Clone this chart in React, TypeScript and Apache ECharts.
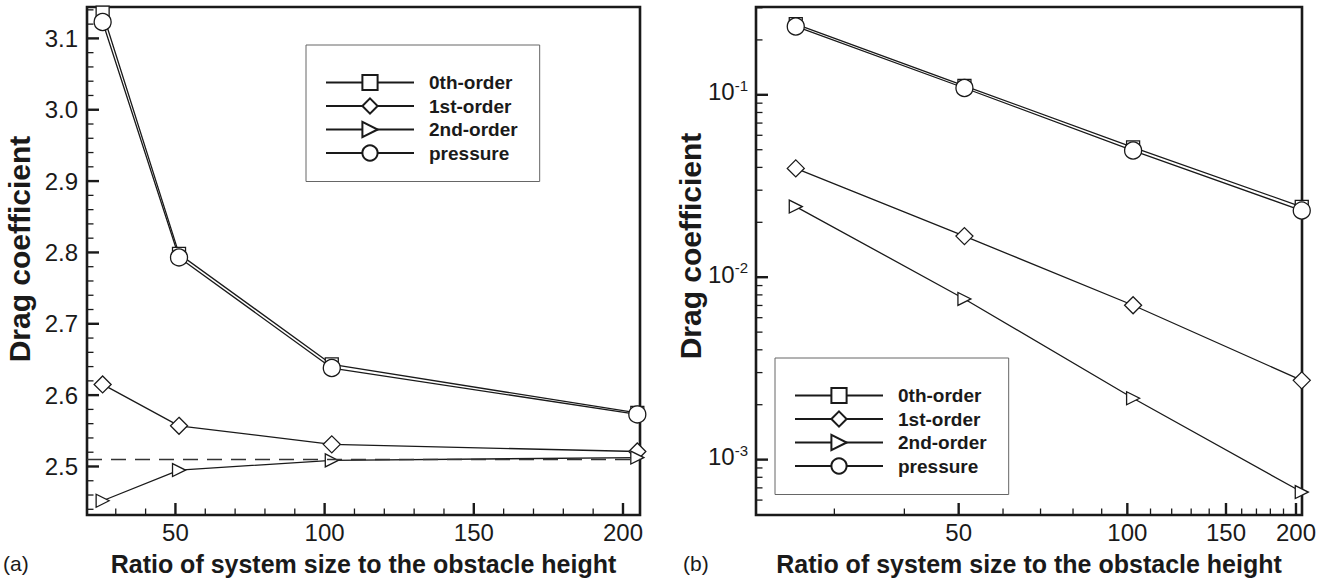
import React, { useEffect, useRef } from 'react';
import * as echarts from 'echarts';

// ---------- data ----------
const sizeRatio = [25.6, 51.2, 102.4, 204.8];
const seriesNames = ['0th-order', '1st-order', '2nd-order', 'pressure'];

// panel (a): drag coefficient, linear axes
const cdZeroA = [3.136, 2.798, 2.643, 2.575];
const cdFirstA = [2.615, 2.557, 2.531, 2.521];
const cdSecondA = [2.452, 2.495, 2.5085, 2.5125];
const cdPressureA = [3.123, 2.793, 2.638, 2.573];
const referenceCd = 2.514;

// panel (b): drag coefficient, log-log axes
const cdZeroB = [0.244, 0.112, 0.0515, 0.0243];
const cdFirstB = [0.0395, 0.0168, 0.00702, 0.00272];
const cdSecondB = [0.0244, 0.0076, 0.00217, 0.000664];
const cdPressureB = [0.237, 0.109, 0.0495, 0.0232];

// axis ranges
const xRangeA = [20.36, 205.7];
const yRangeA = [2.432, 3.144];
const xRangeB = [21.74, 205];
const yRangeB = [4.97e-4, 0.303];

// ticks
const xMajorA = [50, 100, 150, 200];
const xMajorLabelsA = ['50', '100', '150', '200'];
const xMinorA = [30, 40, 60, 70, 80, 90, 110, 120, 130, 140, 160, 170, 180, 190];
const yMajorA = [2.5, 2.6, 2.7, 2.8, 2.9, 3.0, 3.1];
const yMajorLabelsA = ['2.5', '2.6', '2.7', '2.8', '2.9', '3.0', '3.1'];
const yMinorA = [2.44, 2.46, 2.48, 2.52, 2.54, 2.56, 2.58, 2.62, 2.64, 2.66, 2.68, 2.72, 2.74, 2.76, 2.78,
  2.82, 2.84, 2.86, 2.88, 2.92, 2.94, 2.96, 2.98, 3.02, 3.04, 3.06, 3.08, 3.12, 3.14];

const xMajorB = [50, 100, 150, 200];
const xMajorLabelsB = ['50', '100', '150', '200'];
const xMinorB = [30, 40, 60, 70, 80, 90, 110, 120, 130, 140, 160, 170, 180, 190];
const yMajorB = [0.001, 0.01, 0.1];
const yMajorExpB = ['-3', '-2', '-1'];
const yMinorB = [6e-4, 7e-4, 8e-4, 9e-4, 0.002, 0.003, 0.004, 0.005, 0.006, 0.007, 0.008, 0.009,
  0.02, 0.03, 0.04, 0.05, 0.06, 0.07, 0.08, 0.09, 0.2, 0.3];

const FONT = '"Liberation Sans", Arial, Helvetica, sans-serif';
const INK = '#1a1a1a';
const TICK_FONT = 24;

const symbolSpecs = [
  { symbol: 'rect', size: 13, rotate: 0 },
  { symbol: 'diamond', size: 17, rotate: 0 },
  { symbol: 'triangle', size: 13, rotate: -90 },
  { symbol: 'circle', size: 17, rotate: 0 },
];

type TickMeta = { axis: 'x' | 'y'; major: boolean; label?: string; sup?: string };

function buildTickSeries(
  gridIndex: number,
  xMajor: number[], xLabels: string[], xMinor: number[],
  yMajor: number[], yLabels: string[] | null, yExp: string[] | null, yMinor: number[],
  xMin: number, yMin: number
) {
  const items: number[][] = [];
  const meta: TickMeta[] = [];
  xMajor.forEach((v, i) => { items.push([v, yMin]); meta.push({ axis: 'x', major: true, label: xLabels[i] }); });
  xMinor.forEach((v) => { items.push([v, yMin]); meta.push({ axis: 'x', major: false }); });
  yMajor.forEach((v, i) => {
    items.push([xMin, v]);
    meta.push({ axis: 'y', major: true, label: yLabels ? yLabels[i] : undefined, sup: yExp ? yExp[i] : undefined });
  });
  yMinor.forEach((v) => { items.push([xMin, v]); meta.push({ axis: 'y', major: false }); });

  return {
    type: 'custom',
    xAxisIndex: gridIndex,
    yAxisIndex: gridIndex,
    silent: true,
    clip: false,
    z: 5,
    data: items,
    renderItem: (params: any, api: any) => {
      const m = meta[params.dataIndex];
      const p = api.coord([api.value(0), api.value(1)]);
      const len = m.major ? 12 : 6.5;
      const lw = m.major ? 2.4 : 1.3;
      const children: any[] = [];
      if (m.axis === 'x') {
        children.push({
          type: 'line',
          shape: { x1: p[0], y1: p[1], x2: p[0], y2: p[1] - len },
          style: { stroke: INK, lineWidth: lw },
        });
        if (m.label) {
          children.push({
            type: 'text', x: p[0], y: p[1] + 5,
            style: { text: m.label, font: `${TICK_FONT}px ${FONT}`, fill: INK, align: 'center', verticalAlign: 'top' },
          });
        }
      } else {
        children.push({
          type: 'line',
          shape: { x1: p[0], y1: p[1], x2: p[0] + len, y2: p[1] },
          style: { stroke: INK, lineWidth: lw },
        });
        if (m.label) {
          children.push({
            type: 'text', x: p[0] - 9, y: p[1],
            style: { text: m.label, font: `${TICK_FONT}px ${FONT}`, fill: INK, align: 'right', verticalAlign: 'middle' },
          });
        } else if (m.sup) {
          children.push({
            type: 'text', x: p[0] - 8, y: p[1] - 3,
            style: {
              text: `{b|10}{s|${m.sup}}`,
              align: 'right', verticalAlign: 'middle',
              rich: {
                b: { fontFamily: FONT, fontSize: TICK_FONT, fill: INK, color: INK, lineHeight: 28 },
                s: { fontFamily: FONT, fontSize: 15, fill: INK, color: INK, lineHeight: 15, verticalAlign: 'top' },
              },
            },
          });
        }
      }
      return { type: 'group', children };
    },
  };
}

function lineSeries(name: string, idx: number, gridIndex: number, values: number[], extra?: any) {
  const s = symbolSpecs[idx];
  return {
    type: 'line',
    name,
    xAxisIndex: gridIndex,
    yAxisIndex: gridIndex,
    data: sizeRatio.map((x, i) => [x, values[i]]),
    symbol: s.symbol,
    symbolSize: s.size,
    symbolRotate: s.rotate,
    showAllSymbol: true,
    color: INK,
    lineStyle: { color: INK, width: 1.3 },
    itemStyle: { color: '#fff', borderColor: INK, borderWidth: 1.3 },
    emphasis: { disabled: true },
    silent: true,
    z: 3,
    ...(extra || {}),
  };
}

const legendBase = {
  orient: 'vertical',
  data: seriesNames,
  itemWidth: 88,
  itemHeight: 19,
  itemGap: 4.5,
  selectedMode: false,
  backgroundColor: '#fff',
  borderColor: '#666',
  borderWidth: 1,
  padding: [28, 22, 19, 19],
  textStyle: { fontFamily: FONT, fontSize: 19, lineHeight: 19, fontWeight: 'bold', color: INK, padding: [0, 0, 0, 10] },
};

export default function App() {
  const ref = useRef<HTMLDivElement>(null);

  useEffect(() => {
    document.body.style.margin = '0';
    const chart = echarts.init(ref.current as HTMLDivElement, null, { renderer: 'svg' });

    const axisHidden = {
      axisLine: { show: false },
      axisTick: { show: false },
      axisLabel: { show: false },
      splitLine: { show: false },
      minorTick: { show: false },
    };
    const xNameStyle = { fontFamily: FONT, fontSize: 25, fontWeight: 'bold', color: INK };
    const yNameStyleA = { fontFamily: FONT, fontSize: 30, fontWeight: 'bold', color: INK, padding: [0, 0, 0, 24] };
    const yNameStyleB = { fontFamily: FONT, fontSize: 30, fontWeight: 'bold', color: INK, padding: [0, 0, 0, 30] };

    const option: any = {
      animation: false,
      backgroundColor: '#fff',
      textStyle: { fontFamily: FONT },
      grid: [
        { left: 87, top: 7, width: 553, height: 508, show: true, borderColor: INK, borderWidth: 2.6, backgroundColor: 'transparent' },
        { left: 756, top: 7, width: 546, height: 508, show: true, borderColor: INK, borderWidth: 2.6, backgroundColor: 'transparent' },
      ],
      xAxis: [
        {
          type: 'value', gridIndex: 0, min: xRangeA[0], max: xRangeA[1], ...axisHidden,
          name: 'Ratio of system size to the obstacle height', nameLocation: 'middle', nameGap: 36, nameTextStyle: xNameStyle,
        },
        {
          type: 'log', logBase: 10, gridIndex: 1, min: xRangeB[0], max: xRangeB[1], ...axisHidden,
          name: 'Ratio of system size to the obstacle height', nameLocation: 'middle', nameGap: 36, nameTextStyle: xNameStyle,
        },
      ],
      yAxis: [
        {
          type: 'value', gridIndex: 0, min: yRangeA[0], max: yRangeA[1], ...axisHidden,
          name: 'Drag coefficient', nameLocation: 'middle', nameGap: 53, nameTextStyle: yNameStyleA,
        },
        {
          type: 'log', logBase: 10, gridIndex: 1, min: yRangeB[0], max: yRangeB[1], ...axisHidden,
          name: 'Drag coefficient', nameLocation: 'middle', nameGap: 51, nameTextStyle: yNameStyleB,
        },
      ],
      legend: [
        { ...legendBase, left: 306, top: 45 },
        { ...legendBase, left: 775, top: 358 },
      ],
      graphic: [
        { type: 'text', left: 3, top: 553, style: { text: '(a)', font: `21px ${FONT}`, fill: INK } },
        { type: 'text', left: 683, top: 553, style: { text: '(b)', font: `21px ${FONT}`, fill: INK } },
      ],
      series: [
        lineSeries(seriesNames[0], 0, 0, cdZeroA),
        lineSeries(seriesNames[1], 1, 0, cdFirstA),
        lineSeries(seriesNames[2], 2, 0, cdSecondA, {
          markLine: {
            silent: true,
            symbol: 'none',
            label: { show: false },
            lineStyle: { type: [15, 9], color: '#333', width: 1.3 },
            data: [{ yAxis: referenceCd }],
          },
        }),
        lineSeries(seriesNames[3], 3, 0, cdPressureA),
        lineSeries(seriesNames[0], 0, 1, cdZeroB),
        lineSeries(seriesNames[1], 1, 1, cdFirstB),
        lineSeries(seriesNames[2], 2, 1, cdSecondB),
        lineSeries(seriesNames[3], 3, 1, cdPressureB),
        buildTickSeries(0, xMajorA, xMajorLabelsA, xMinorA, yMajorA, yMajorLabelsA, null, yMinorA, xRangeA[0], yRangeA[0]),
        buildTickSeries(1, xMajorB, xMajorLabelsB, xMinorB, yMajorB, null, yMajorExpB, yMinorB, xRangeB[0], yRangeB[0]),
      ],
    };

    chart.setOption(option);
    return () => chart.dispose();
  }, []);

  return <div ref={ref} style={{ width: 1330, height: 582 }} />;
}
